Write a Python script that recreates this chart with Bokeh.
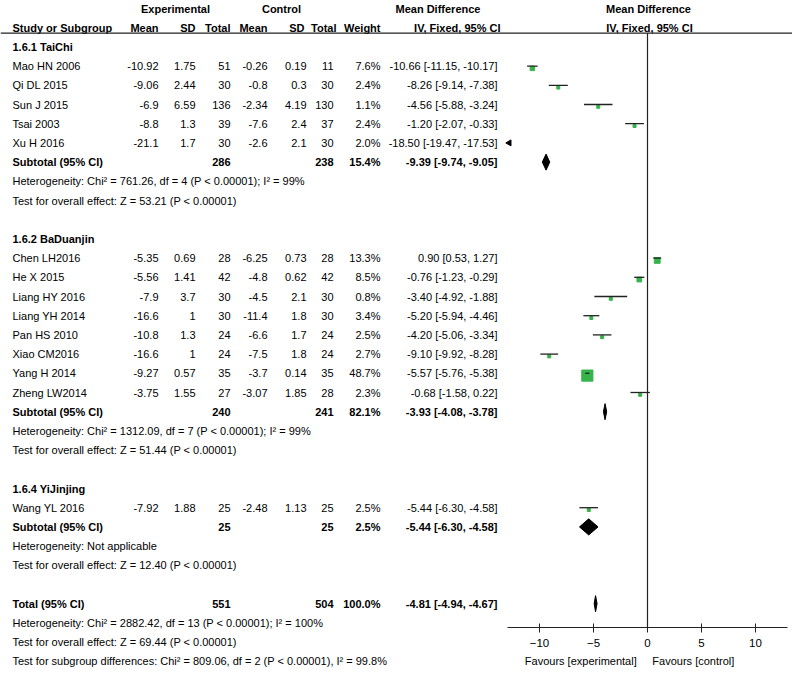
import numpy as np
from bokeh.plotting import figure
from bokeh.models import Range1d, LinearAxis, FixedTicker, Span
from bokeh.core.properties import value
from bokeh.embed import file_html
from bokeh.resources import INLINE

# ---------------- data ----------------
group_names = ["1.6.1 TaiChi", "1.6.2 BaDuanjin", "1.6.4 YiJinjing"]
group_sizes = [5, 8, 1]
studies = ["Mao HN 2006", "Qi DL 2015", "Sun J 2015", "Tsai 2003", "Xu H 2016",
           "Chen LH2016", "He X 2015", "Liang HY 2016", "Liang YH 2014", "Pan HS 2010",
           "Xiao CM2016", "Yang H 2014", "Zheng LW2014",
           "Wang YL 2016"]
exp_mean = [-10.92, -9.06, -6.9, -8.8, -21.1, -5.35, -5.56, -7.9, -16.6, -10.8, -16.6, -9.27, -3.75, -7.92]
exp_sd = [1.75, 2.44, 6.59, 1.3, 1.7, 0.69, 1.41, 3.7, 1, 1.3, 1, 0.57, 1.55, 1.88]
exp_n = [51, 30, 136, 39, 30, 28, 42, 30, 30, 24, 24, 35, 27, 25]
ctl_mean = [-0.26, -0.8, -2.34, -7.6, -2.6, -6.25, -4.8, -4.5, -11.4, -6.6, -7.5, -3.7, -3.07, -2.48]
ctl_sd = [0.19, 0.3, 4.19, 2.4, 2.1, 0.73, 0.62, 2.1, 1.8, 1.7, 1.8, 0.14, 1.85, 1.13]
ctl_n = [11, 30, 130, 37, 30, 28, 42, 30, 30, 24, 24, 35, 28, 25]
weight = [7.6, 2.4, 1.1, 2.4, 2.0, 13.3, 8.5, 0.8, 3.4, 2.5, 2.7, 48.7, 2.3, 2.5]
md = [-10.66, -8.26, -4.56, -1.20, -18.50, 0.90, -0.76, -3.40, -5.20, -4.20, -9.10, -5.57, -0.68, -5.44]
md_lo = [-11.15, -9.14, -5.88, -2.07, -19.47, 0.53, -1.23, -4.92, -5.94, -5.06, -9.92, -5.76, -1.58, -6.30]
md_hi = [-10.17, -7.38, -3.24, -0.33, -17.53, 1.27, -0.29, -1.88, -4.46, -3.34, -8.28, -5.38, 0.22, -4.58]

sub_exp_n = [286, 240, 25]
sub_ctl_n = [238, 241, 25]
sub_weight = [15.4, 82.1, 2.5]
sub_md = [-9.39, -3.93, -5.44]
sub_lo = [-9.74, -4.08, -6.30]
sub_hi = [-9.05, -3.78, -4.58]
sub_chi2 = [761.26, 1312.09, None]
sub_df = [4, 7, None]
sub_i2 = [99, 99, None]
sub_z = [53.21, 51.44, 12.40]

tot_exp_n = 551
tot_ctl_n = 504
tot_weight = 100.0
tot_md, tot_lo, tot_hi = -4.81, -4.94, -4.67
tot_chi2, tot_df, tot_i2 = 2882.42, 13, 100
tot_z = 69.44
sg_chi2, sg_df, sg_i2 = 809.06, 2, 99.8

axis_ticks = [-10, -5, 0, 5, 10]
axis_bounds = (-13, 13)
favours = ["Favours [experimental]", "Favours [control]"]

# ---------------- layout constants ----------------
W, H = 792, 671
ROW_PX = 19.2
ROW0_PX = 8.0          # figure y of row 0
ZERO_PX = 647.0        # figure x of mean difference 0
UNIT_PX = 10.8         # pixels per unit of mean difference
AXIS_ROW = 32.24
LINE_ROW = 1.28
FONT = "Liberation Sans, Arial, sans-serif"
FS = "11px"
TXT = "#000000"
GREEN = "#36b34b"

y_top = -ROW0_PX / ROW_PX
y_bot = (H - ROW0_PX) / ROW_PX

p = figure(width=W, height=H, x_range=Range1d(0, W), y_range=Range1d(y_bot, y_top),
           x_axis_type=None, y_axis_type=None, output_backend="svg",
           toolbar_location=None, min_border=0, outline_line_color=None)
p.extra_x_ranges = {"md": Range1d(-ZERO_PX / UNIT_PX, (W - ZERO_PX) / UNIT_PX)}
p.background_fill_color = "white"
p.border_fill_color = "white"


def txt(x, y, text, align="left", bold=False, rng="default"):
    n = len(text)
    xs = x if isinstance(x, list) else [x] * n
    p.text(x=xs, y=y, text=text, text_align=align, text_baseline="middle",
           text_font=value(FONT), text_font_size=FS,
           text_font_style="bold" if bold else "normal",
           text_color=TXT, x_range_name=rng)


def g(v):
    return f"{v:g}"


# ---------------- rows ----------------
row = 2
study_rows, group_rows, sub_rows, het_rows, test_rows = [], [], [], [], []
for size in group_sizes:
    group_rows.append(row); row += 1
    for _ in range(size):
        study_rows.append(row); row += 1
    sub_rows.append(row); row += 1
    het_rows.append(row); row += 1
    test_rows.append(row); row += 1
    row += 1
total_row = row
tot_het_row, tot_test_row, sg_row = row + 1, row + 2, row + 3

# column anchors (figure x)
C_NAME, C_EM, C_ESD, C_EN, C_CM, C_CSD, C_CN, C_W, C_MD = 12, 158, 195, 230, 267, 306, 333, 380, 497

# header
txt([175, 281], [0, 0], ["Experimental", "Control"], "center", True)
txt([395], [0], ["Mean Difference"], "left", True)
txt([648], [0], ["Mean Difference"], "center", True)
txt([C_NAME], [1], ["Study or Subgroup"], "left", True)
txt([C_EM, C_ESD, C_EN, C_CM, C_CSD - 2, C_CN + 3, C_W, 500], [1] * 8,
    ["Mean", "SD", "Total", "Mean", "SD", "Total", "Weight", "IV, Fixed, 95% CI"], "right", True)
txt([649], [1], ["IV, Fixed, 95% CI"], "center", True)

p.add_layout(Span(location=LINE_ROW, dimension="width", line_color="#222222", line_width=1.2))

# studies
txt(C_NAME, group_rows, group_names, "left", True)
txt(C_NAME, study_rows, studies)
txt(C_EM, study_rows, [g(v) for v in exp_mean], "right")
txt(C_ESD, study_rows, [g(v) for v in exp_sd], "right")
txt(C_EN, study_rows, [g(v) for v in exp_n], "right")
txt(C_CM, study_rows, [g(v) for v in ctl_mean], "right")
txt(C_CSD, study_rows, [g(v) for v in ctl_sd], "right")
txt(C_CN, study_rows, [g(v) for v in ctl_n], "right")
txt(C_W, study_rows, [f"{v:.1f}%" for v in weight], "right")
txt(C_MD, study_rows, [f"{a:.2f} [{b:.2f}, {c:.2f}]" for a, b, c in zip(md, md_lo, md_hi)], "right")

# subtotals
txt(C_NAME, sub_rows, ["Subtotal (95% CI)"] * 3, "left", True)
txt(C_EN, sub_rows, [g(v) for v in sub_exp_n], "right", True)
txt(C_CN, sub_rows, [g(v) for v in sub_ctl_n], "right", True)
txt(C_W, sub_rows, [f"{v:.1f}%" for v in sub_weight], "right", True)
txt(C_MD, sub_rows, [f"{a:.2f} [{b:.2f}, {c:.2f}]" for a, b, c in zip(sub_md, sub_lo, sub_hi)], "right", True)
het_txt = []
for c2, d, i2 in zip(sub_chi2, sub_df, sub_i2):
    if c2 is None:
        het_txt.append("Heterogeneity: Not applicable")
    else:
        het_txt.append(f"Heterogeneity: Chi\u00b2 = {c2:.2f}, df = {d} (P < 0.00001); I\u00b2 = {i2:g}%")
txt(C_NAME, het_rows, het_txt)
txt(C_NAME, test_rows, [f"Test for overall effect: Z = {z:.2f} (P < 0.00001)" for z in sub_z])

# total
txt(C_NAME, [total_row], ["Total (95% CI)"], "left", True)
txt([C_EN, C_CN, C_W, C_MD], [total_row] * 4,
    [g(tot_exp_n), g(tot_ctl_n), f"{tot_weight:.1f}%", f"{tot_md:.2f} [{tot_lo:.2f}, {tot_hi:.2f}]"], "right", True)
txt(C_NAME, [tot_het_row, tot_test_row, sg_row],
    [f"Heterogeneity: Chi\u00b2 = {tot_chi2:.2f}, df = {tot_df} (P < 0.00001); I\u00b2 = {tot_i2:g}%",
     f"Test for overall effect: Z = {tot_z:.2f} (P < 0.00001)",
     f"Test for subgroup differences: Chi\u00b2 = {sg_chi2:.2f}, df = {sg_df} (P < 0.00001), I\u00b2 = {sg_i2:g}%"])

# ---------------- forest part ----------------
lo_b, hi_b = axis_bounds
p.segment(x0=[0], x1=[0], y0=[LINE_ROW], y1=[AXIS_ROW], line_color="#222222", line_width=1.2, x_range_name="md")

md_a, lo_a, hi_a, w_a, r_a = map(np.array, (md, md_lo, md_hi, weight, study_rows))
vis = (hi_a >= lo_b) & (lo_a <= hi_b)
sizes = np.maximum(1.6 * np.sqrt(w_a), 3.0)
inside = vis & (md_a >= lo_b) & (md_a <= hi_b)
p.scatter(x=md_a[inside], y=r_a[inside] + 0.12, marker="square", size=sizes[inside],
          color=GREEN, x_range_name="md")
p.segment(x0=np.clip(lo_a[vis], lo_b, hi_b), x1=np.clip(hi_a[vis], lo_b, hi_b),
          y0=r_a[vis], y1=r_a[vis], line_color="#222222", line_width=1.3, x_range_name="md")
left_out = hi_a < lo_b
p.scatter(x=np.full(left_out.sum(), lo_b + 0.2), y=r_a[left_out], marker="triangle",
          angle=np.pi / 2, size=6, color="black", x_range_name="md")

# diamonds
dh = 0.42
d_m = sub_md + [tot_md]
d_l = sub_lo + [tot_lo]
d_h = sub_hi + [tot_hi]
d_r = sub_rows + [total_row]
p.patches(xs=[[l, m, h, m] for l, m, h in zip(d_l, d_m, d_h)],
          ys=[[r, r - dh, r, r + dh] for r in d_r],
          fill_color="black", line_color="black", line_width=1, x_range_name="md")

# axis
ax = LinearAxis(x_range_name="md", fixed_location=AXIS_ROW, bounds=axis_bounds,
                ticker=FixedTicker(ticks=axis_ticks))
ax.axis_line_color = "#222222"
ax.axis_line_width = 1.2
ax.major_tick_line_color = "#222222"
ax.major_tick_in = 4
ax.major_tick_out = 5
ax.minor_tick_line_color = None
ax.major_label_text_font = FONT
ax.major_label_text_font_size = "11.5px"
ax.major_label_text_color = TXT
ax.major_label_standoff = 6
p.add_layout(ax, "below")

fav_row = 33.96
txt([-1.0], [fav_row], [favours[0]], "right", rng="md")
txt([0.45], [fav_row], [favours[1]], "left", rng="md")

open("out.html", "w").write(file_html(p, INLINE))
